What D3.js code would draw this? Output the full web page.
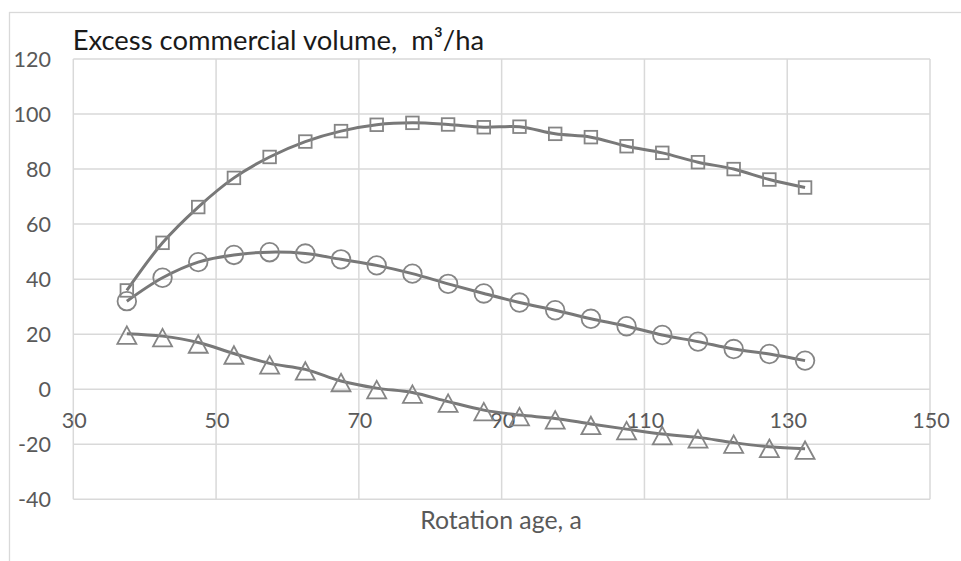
<!DOCTYPE html>
<html><head><meta charset="utf-8">
<script src="https://cdn.jsdelivr.net/npm/d3@7"></script>
<style>
html,body{margin:0;padding:0;background:#fff;}
svg text{font-family:Lato,"Open Sans",sans-serif;white-space:pre;}
</style></head>
<body>
<svg id="c" width="961" height="561"></svg>
<script>
const ages = [37.5,42.5,47.5,52.5,57.5,62.5,67.5,72.5,77.5,82.5,87.5,92.5,97.5,102.5,107.5,112.5,117.5,122.5,127.5,132.5];
const squareSeries = [35.9,53.2,66.2,76.8,84.4,90.0,93.8,96.1,96.8,96.2,95.2,95.4,92.8,91.6,88.3,85.9,82.5,80.0,76.2,73.3];
const circleSeries = [32.0,40.5,46.2,48.8,49.8,49.3,47.2,45.0,42.0,38.3,34.8,31.5,28.7,25.6,22.9,19.7,17.3,14.6,12.8,10.4];
const triangleSeries = [20.2,19.3,17.0,13.0,9.4,7.2,3.0,0.4,-1.2,-4.5,-7.6,-9.4,-10.6,-12.6,-14.5,-16.3,-17.5,-19.4,-20.9,-21.6];
const xTicks = [30,50,70,90,110,130,150];
const yTicks = [-40,-20,0,20,40,60,80,100,120];
const chartTitle = "Excess commercial volume,  m³/ha";
const xTitle = "Rotation age, a";

const svg = d3.select("#c");
const x = d3.scaleLinear().domain([30,150]).range([73.3,930]);
const y = d3.scaleLinear().domain([-40,120]).range([499.3,59]);

// outer chart border
svg.append("rect").attr("x",9.5).attr("y",12.5).attr("width",1000).attr("height",600)
  .attr("fill","none").attr("stroke","#d9d9d9").attr("stroke-width",1.3);

// gridlines
const grid = svg.append("g").attr("stroke","#d9d9d9").attr("stroke-width",1.5);
grid.selectAll("line.h").data(yTicks).join("line")
  .attr("x1",x(30)).attr("x2",x(150)).attr("y1",d=>y(d)).attr("y2",d=>y(d));
grid.selectAll("line.v").data(xTicks).join("line")
  .attr("y1",y(-40)).attr("y2",y(120)).attr("x1",d=>x(d)).attr("x2",d=>x(d));

// y tick labels
svg.append("g").selectAll("text").data(yTicks).join("text")
  .attr("x",51).attr("y",d=>y(d)).attr("dy","0.38em").attr("text-anchor","end")
  .attr("font-size",21.5).attr("fill","#595959").text(d=>d);

// x tick labels (next to the zero axis)
svg.append("g").selectAll("text").data(xTicks).join("text")
  .attr("x",d=>x(d)+1).attr("y",y(0)+39).attr("text-anchor","middle")
  .attr("font-size",21.5).attr("fill","#595959").text(d=>d);

// titles
svg.append("text").attr("x",72.7).attr("y",50).attr("font-size",27.4)
  .attr("fill","#1a1a1a").text(chartTitle);
svg.append("text").attr("x",501).attr("y",529).attr("text-anchor","middle")
  .attr("font-size",24.8).attr("fill","#595959").text(xTitle);

const line = d3.line().x(d=>x(d[0])).y(d=>y(d[1])).curve(d3.curveCatmullRom.alpha(0.5));
const seriesList = [
  {vals:triangleSeries, shape:"triangle"},
  {vals:circleSeries, shape:"circle"},
  {vals:squareSeries, shape:"square"}
];
const lineColor = "#787878", markColor = "#858585";
seriesList.forEach(s=>{
  const pts = ages.map((a,i)=>[a,s.vals[i]]);
  svg.append("path").attr("d",line(pts)).attr("fill","none")
    .attr("stroke",lineColor).attr("stroke-width",3).attr("stroke-linejoin","round");
  const g = svg.append("g").attr("fill","none").attr("stroke",markColor).attr("stroke-width",1.8);
  pts.forEach(p=>{
    const cx = x(p[0]), cy = y(p[1]);
    if(s.shape==="circle"){
      g.append("circle").attr("cx",cx).attr("cy",cy).attr("r",9.3);
    } else if(s.shape==="square"){
      g.append("rect").attr("x",cx-6.3).attr("y",cy-6.3).attr("width",12.6).attr("height",12.6);
    } else {
      g.append("path").attr("d",`M${cx},${cy-7.2}L${cx+9.5},${cy+10.3}L${cx-9.5},${cy+10.3}Z`).attr("stroke-linejoin","miter");
    }
  });
});
</script>
</body></html>
